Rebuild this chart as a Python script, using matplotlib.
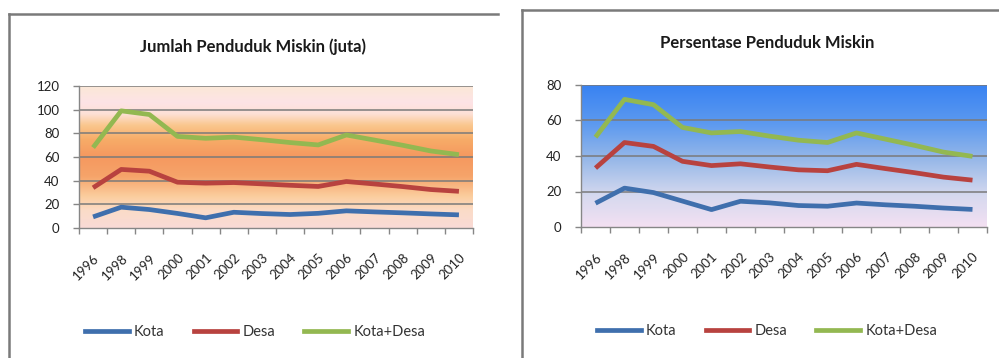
import matplotlib
matplotlib.use("Agg")
import matplotlib.pyplot as plt
import numpy as np
from matplotlib.colors import LinearSegmentedColormap
from matplotlib.lines import Line2D

plt.rcParams['font.family'] = ['Lato', 'DejaVu Sans']

# --- data ---
YEARS = ["1996", "1998", "1999", "2000", "2001", "2002", "2003",
         "2004", "2005", "2006", "2007", "2008", "2009", "2010"]

# jumlah penduduk miskin (juta), garis bertumpuk
JML_KOTA = [9.4, 17.6, 15.6, 12.3, 8.6, 13.3, 12.2, 11.4, 12.4, 14.5, 13.6, 12.8, 11.9, 11.1]
JML_DESA = [34.0, 49.5, 48.0, 38.7, 37.9, 38.4, 37.3, 36.1, 35.1, 39.3, 37.2, 35.0, 32.5, 31.0]
JML_TOTAL = [68.0, 99.0, 95.9, 77.4, 75.8, 76.8, 74.6, 72.2, 70.2, 78.6, 74.3, 69.9, 65.1, 62.0]

# persentase penduduk miskin, garis bertumpuk
PCT_KOTA = [13.4, 21.9, 19.4, 14.6, 9.8, 14.5, 13.6, 12.1, 11.7, 13.5, 12.5, 11.7, 10.7, 9.9]
PCT_DESA = [33.2, 47.6, 45.4, 37.0, 34.6, 35.6, 33.8, 32.2, 31.7, 35.3, 32.9, 30.6, 28.1, 26.4]
PCT_TOTAL = [50.6, 71.9, 68.9, 56.1, 53.0, 53.8, 51.2, 48.9, 47.6, 53.0, 49.5, 46.0, 42.2, 39.8]

SERIES_NAMES = ["Kota", "Desa", "Kota+Desa"]
COLORS = ["#3f6fad", "#b8423f", "#93b851"]

W, H = 999, 358

SUNSET = LinearSegmentedColormap.from_list("sunset", [
    (0.00, "#f9dad6"), (0.12, "#fbdcc8"), (0.22, "#fbcd9e"),
    (0.36, "#f6a46a"), (0.50, "#f5985f"), (0.62, "#f7ac68"),
    (0.72, "#fac78e"), (0.80, "#fde0d6"), (0.88, "#fde3e6"),
    (1.00, "#fbe8d6")])
SKY = LinearSegmentedColormap.from_list("sky", [
    (0.00, "#f4e0f2"), (0.22, "#d5d9ef"), (0.48, "#95b7e8"),
    (0.72, "#5d9af0"), (1.00, "#3882f2")])


def px_rect(x0, y0, x1, y1):
    return [x0 / W, 1 - y1 / H, (x1 - x0) / W, (y1 - y0) / H]


def draw_panel(fig, rect, series, ymax, cmap, title, title_xy, legend_xy):
    ax = fig.add_axes(px_rect(*rect))
    n = len(YEARS)
    x = np.arange(n)
    ax.set_xlim(-0.5, n - 0.5)
    ax.set_ylim(0, ymax)

    grad = np.linspace(0, 1, 256).reshape(-1, 1)
    ax.imshow(grad, cmap=cmap, origin="lower", aspect="auto",
              extent=(-0.5, n - 0.5, 0, ymax), zorder=0)

    for y in np.arange(20, ymax + 1, 20):
        ax.axhline(y, color="#7a7a7a", lw=1.1, zorder=1)

    for vals, name, c in zip(series, SERIES_NAMES, COLORS):
        ax.plot(x, vals, color=c, lw=3.4, label=name, zorder=3,
                solid_capstyle="butt", solid_joinstyle="round")

    for s in ["top", "right"]:
        ax.spines[s].set_visible(False)
    for s in ["left", "bottom"]:
        ax.spines[s].set_color("#868686")
        ax.spines[s].set_linewidth(1.0)

    ax.set_yticks(np.arange(0, ymax + 1, 20))
    ax.tick_params(axis="y", length=4, width=1, color="#868686", pad=10,
                   labelsize=9.5, labelcolor="#222222")
    ax.set_xticks(x)
    ax.set_xticklabels(YEARS, rotation=45, ha="right", rotation_mode="anchor")
    ax.set_xticks(np.arange(-0.5, n), minor=True)
    ax.tick_params(axis="x", which="major", length=0, pad=17,
                   labelsize=9.5, labelcolor="#222222")
    ax.tick_params(axis="x", which="minor", length=4, width=1, color="#868686")

    fig.text(title_xy[0] / W, 1 - title_xy[1] / H, title, ha="center", va="center",
             fontsize=12, fontweight="bold", color="#1a1a1a")

    handles = [Line2D([], [], color=c, lw=3.4) for c in COLORS]
    fig.legend(handles, SERIES_NAMES, loc="center",
               bbox_to_anchor=(legend_xy[0] / W, 1 - legend_xy[1] / H),
               ncol=3, frameon=False, fontsize=10.5, handlelength=3.0,
               handletextpad=0.35, columnspacing=2.0, labelcolor="#333333")
    return ax


fig = plt.figure(figsize=(W / 100, H / 100), dpi=100)
fig.patch.set_facecolor("white")

# bingkai panel
border = dict(color="#7a7a7a", lw=1.8, transform=fig.transFigure)
fig.add_artist(Line2D([9 / W, 9 / W], [0, 1 - 14 / H], **border))
fig.add_artist(Line2D([9 / W, 498 / W], [1 - 14 / H, 1 - 14 / H], **border))
fig.add_artist(Line2D([522 / W, 522 / W], [0, 1 - 10 / H], **border))
fig.add_artist(Line2D([522 / W, 1], [1 - 10 / H, 1 - 10 / H], **border))

draw_panel(fig, (79, 86, 473, 228), [JML_KOTA, JML_DESA, JML_TOTAL], 120, SUNSET,
           "Jumlah Penduduk Miskin (juta)", (253, 47), (255, 332))
draw_panel(fig, (581, 85, 987, 227), [PCT_KOTA, PCT_DESA, PCT_TOTAL], 80, SKY,
           "Persentase Penduduk Miskin", (767, 43), (767, 331))

fig.savefig("out.png", dpi=100)
